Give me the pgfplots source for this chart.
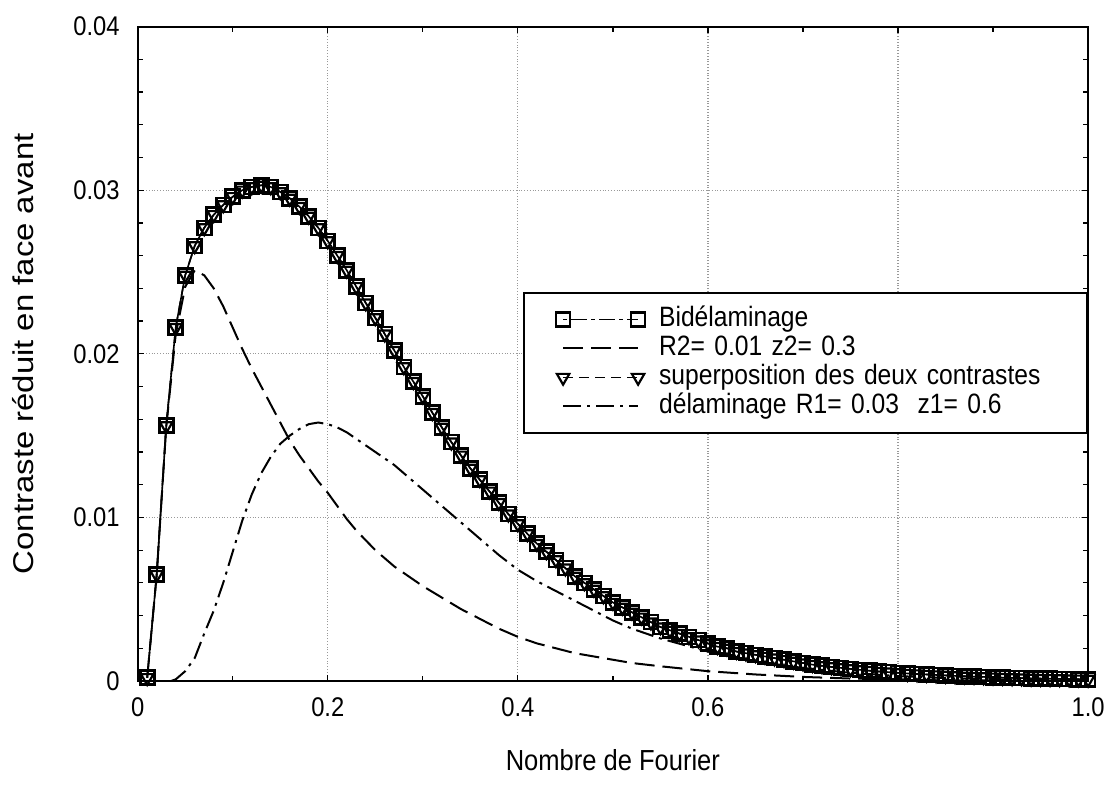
\documentclass[border=0pt]{standalone}
\usepackage{fontspec}
\setmainfont{Liberation Sans}[FakeStretch=0.88]
\newfontfamily\ylabfont{Liberation Sans}[FakeStretch=1.15]
\usepackage{pgfplots}
\usepackage{pgfplotstable}
\pgfplotsset{compat=1.18}
\newcommand\chartfont{\fontsize{13.5pt}{16pt}\selectfont}
\newcommand\legfont{\fontsize{14pt}{16pt}\selectfont}

\pgfplotstableread{
x y
0.01 0.0002
0.02 0.0065
0.03 0.0156
0.04 0.0216
0.05 0.0248
0.06 0.0266
0.07 0.0277
0.08 0.0285
0.09 0.0291
0.10 0.0296
0.11 0.0300
0.12 0.0302
0.13 0.0303
0.14 0.0302
0.15 0.0299
0.16 0.0295
0.17 0.0290
0.18 0.0284
0.19 0.0277
0.20 0.0269
0.21 0.0260
0.22 0.0251
0.23 0.0241
0.24 0.0231
0.25 0.0222
0.26 0.0212
0.27 0.0202
0.28 0.0192
0.29 0.0183
0.30 0.0174
0.31 0.0164
0.32 0.0155
0.33 0.0146
0.34 0.0138
0.35 0.0130
0.36 0.0123
0.37 0.0116
0.38 0.0109
0.39 0.0102
0.40 0.0096
0.41 0.0090
0.42 0.0084
0.43 0.0079
0.44 0.0074
0.45 0.0069
0.46 0.0064
0.47 0.0060
0.48 0.0056
0.49 0.0052
0.50 0.0048
0.51 0.0045
0.52 0.0042
0.53 0.0039
0.54 0.0036
0.55 0.0033
0.56 0.0031
0.57 0.0029
0.58 0.0027
0.59 0.0025
0.60 0.0023
0.61 0.0021
0.62 0.0020
0.63 0.0018
0.64 0.0017
0.65 0.0016
0.66 0.0015
0.67 0.0014
0.68 0.0013
0.69 0.0012
0.70 0.0011
0.71 0.00100
0.72 0.00093
0.73 0.00086
0.74 0.00080
0.75 0.00074
0.76 0.00068
0.77 0.00063
0.78 0.00058
0.79 0.00054
0.80 0.00050
0.81 0.00046
0.82 0.00043
0.83 0.00040
0.84 0.00037
0.85 0.00034
0.86 0.00031
0.87 0.00029
0.88 0.00027
0.89 0.00025
0.90 0.00023
0.91 0.00021
0.92 0.00019
0.93 0.00018
0.94 0.00016
0.95 0.00015
0.96 0.00014
0.97 0.00013
0.98 0.00012
0.99 0.00011
1.00 0.00010
}\bide

\pgfplotstableread{
x y
0.01 0.0002
0.02 0.0065
0.03 0.0155
0.04 0.0212
0.05 0.0241
0.06 0.0251
0.07 0.0248
0.08 0.0240
0.09 0.0229
0.10 0.0216
0.11 0.0203
0.12 0.0191
0.13 0.0180
0.14 0.0169
0.15 0.0158
0.16 0.0147
0.17 0.0138
0.18 0.0130
0.19 0.0122
0.20 0.0115
0.21 0.0107
0.22 0.0099
0.23 0.0092
0.24 0.0086
0.25 0.0080
0.26 0.0075
0.27 0.0070
0.28 0.0066
0.29 0.0062
0.30 0.0058
0.32 0.0051
0.34 0.0044
0.36 0.0038
0.38 0.0032
0.40 0.0027
0.42 0.0023
0.44 0.0020
0.46 0.0017
0.48 0.0015
0.50 0.0013
0.52 0.0011
0.55 0.0009
0.60 0.0006
0.65 0.0004
0.70 0.00025
0.75 0.00015
0.80 0.0001
0.85 0.00005
0.90 0.00003
1.00 0.00001
}\rdeux

\pgfplotstableread{
x y
0.035 0
0.04 0.0001
0.05 0.0006
0.06 0.0014
0.07 0.0029
0.08 0.0043
0.09 0.0060
0.10 0.0079
0.11 0.0098
0.12 0.0114
0.13 0.0127
0.14 0.0137
0.15 0.0145
0.16 0.0150
0.17 0.0154
0.18 0.0157
0.19 0.0158
0.20 0.0157
0.21 0.0155
0.22 0.0152
0.23 0.0148
0.24 0.0144
0.25 0.0140
0.26 0.0136
0.27 0.0132
0.28 0.0127
0.29 0.0122
0.30 0.0117
0.32 0.0107
0.34 0.0097
0.36 0.0087
0.38 0.0077
0.40 0.0068
0.42 0.0061
0.44 0.0055
0.46 0.0049
0.48 0.0043
0.50 0.0037
0.52 0.0032
0.55 0.0026
0.60 0.0018
0.65 0.0012
0.70 0.0008
0.75 0.0005
0.80 0.0003
0.85 0.00018
0.90 0.0001
1.00 0.00003
}\run

\begin{document}
\begin{tikzpicture}
\path[use as bounding box] (-68.85pt,-53pt) rectangle (484.65pt,340.5pt);
\begin{axis}[
  at={(0,0)}, anchor=south west,
  scale only axis, width=475.2pt, height=327.2pt,
  xmin=0, xmax=1, ymin=0, ymax=0.04,
  scaled ticks=false,
  xtick={0,0.2,0.4,0.6,0.8,1}, xticklabels={0,0.2,0.4,0.6,0.8,1.0},
  ytick={0,0.01,0.02,0.03,0.04}, yticklabels={0,0.01,0.02,0.03,0.04},
  minor xtick={0.1,0.3,0.5,0.7,0.9},
  minor ytick={0.002,0.004,0.006,0.008,0.012,0.014,0.016,0.018,0.022,0.024,0.026,0.028,0.032,0.034,0.036,0.038},
  tick align=inside, major tick length=3pt, minor tick length=2.5pt,
  tick style={black, line width=0.6pt},
  grid=major, major grid style={densely dotted, gray!80, line width=0.6pt},
  axis line style={line width=1pt},
  ticklabel style={font=\chartfont},
  xticklabel style={yshift=-5pt},
  yticklabel style={xshift=-5.5pt},
  xlabel={Nombre de Fourier},
  xlabel style={at={(axis description cs:0.5,-0.1207)}, anchor=center, font=\fontsize{14.5pt}{17pt}\selectfont},
  ylabel={\ylabfont Contraste réduit en face avant},
  ylabel style={at={(axis description cs:-0.1210,0.5)}, anchor=center, font=\fontsize{14.3pt}{17pt}\selectfont},
  legend cell align=left,
  legend image code/.code={\draw[#1] plot coordinates {(0pt,0pt) (37.5pt,0pt)};},
  legend style={at={(1,0.5945)}, anchor=north east, draw=black, line width=1pt,
    font=\legfont, inner xsep=16pt, inner ysep=6pt, row sep=0pt, column sep=7pt,
    nodes={inner xsep=0pt, inner ysep=0.75pt, text height=10pt, text depth=3pt, text width=198pt}},
]
\addplot[black, line width=0.8pt, mark=square, mark size=3.5pt, mark options={solid, line width=1.3pt},
  legend image code/.code={\draw[black,line width=0.8pt,dash pattern=on 2pt off 2pt on 8pt off 2pt] (0pt,0pt)--(37.5pt,0pt);
    \draw[black,line width=1.3pt] plot[mark=square, mark size=3.5pt, only marks] coordinates {(0pt,0pt) (37.5pt,0pt)};}]
  table[x=x,y=y] {\bide};
\addlegendentry{Bidélaminage}
\addplot[black, line width=1pt, dash pattern=on 10pt off 4pt]
  table[x=x,y=y] {\rdeux};
\addlegendentry{R2= 0.01 z2= 0.3}
\addplot[black, line width=0.8pt, dash pattern=on 5pt off 3pt, mark=triangle, mark size=3.6pt, mark options={solid, rotate=180, line width=1.1pt}]
  table[x=x,y=y] {\bide};
\addlegendentry{superposition des deux contrastes}
\addplot[black, line width=1pt, dash pattern=on 9pt off 3pt on 1.5pt off 3pt]
  table[x=x,y=y] {\run};
\addlegendentry{délaminage R1= 0.03\ \ z1= 0.6}
\end{axis}
\end{tikzpicture}
\end{document}
